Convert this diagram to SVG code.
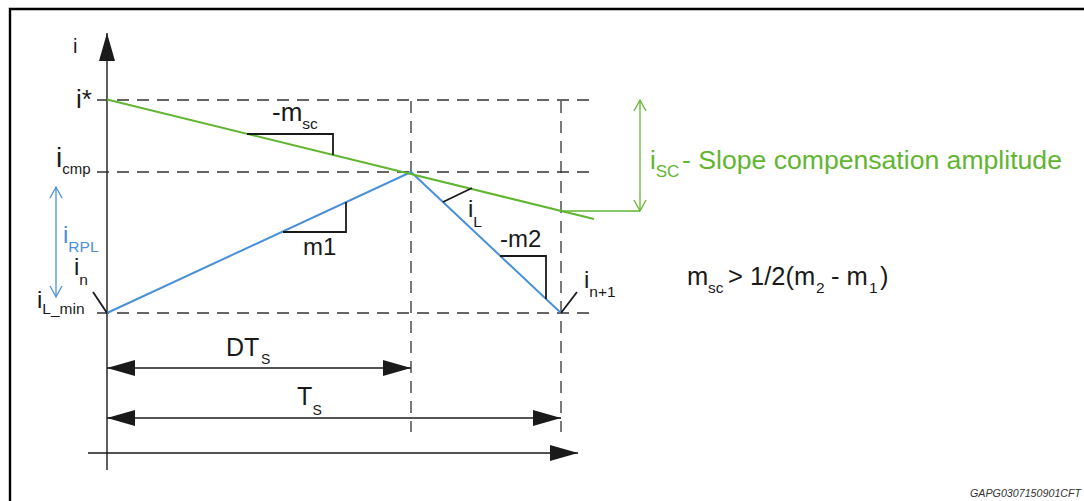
<svg xmlns="http://www.w3.org/2000/svg" width="1084" height="501" viewBox="0 0 1084 501">
<style>
text{font-family:"Liberation Sans",Arial,sans-serif;fill:#1a1a1a}
.sub{font-size:15.5px}
.lbl{font-size:24px}
.big{font-size:26px}
.axis{stroke:#1a1a1a;stroke-width:1.4;fill:none}
.dash{stroke:#333;stroke-width:1.3;stroke-dasharray:12 8;fill:none}
.blue{stroke:#4a90d9;stroke-width:2;fill:none}
.green{stroke:#62b530;stroke-width:2;fill:none}
.mark{stroke:#1a1a1a;stroke-width:1.8;fill:none}
.bt{fill:#4a90d9}
.gt{fill:#62b530}
</style>
<defs>
<marker id="tri" viewBox="0 0 28 16" refX="28" refY="8" markerWidth="28" markerHeight="16" markerUnits="userSpaceOnUse" orient="auto-start-reverse">
<path d="M0,0 L28,8 L0,16 z" fill="#1a1a1a"/>
</marker>
<marker id="vb" viewBox="0 0 12 14" refX="11.5" refY="7" markerWidth="12" markerHeight="14" markerUnits="userSpaceOnUse" orient="auto-start-reverse" overflow="visible">
<path d="M0.5,1 L11.5,7 L0.5,13" fill="none" stroke="#4a90d9" stroke-width="1.3"/>
</marker>
<marker id="vg" viewBox="0 0 12 14" refX="11.5" refY="7" markerWidth="12" markerHeight="14" markerUnits="userSpaceOnUse" orient="auto-start-reverse" overflow="visible">
<path d="M0.5,1 L11.5,7 L0.5,13" fill="none" stroke="#62b530" stroke-width="1.3"/>
</marker>
</defs>
<rect width="1084" height="501" fill="#fff"/>
<path d="M10,502 V9 H1086" fill="none" stroke="#000" stroke-width="2.4"/>

<g id="connectors">
<line class="axis" x1="107" y1="470" x2="107" y2="33" marker-end="url(#tri)"/>
<line class="axis" x1="88" y1="453" x2="578" y2="453" marker-end="url(#tri)"/>
<line class="dash" x1="97" y1="100" x2="592" y2="100"/>
<line class="dash" x1="97" y1="172" x2="592" y2="172"/>
<line class="dash" x1="97" y1="313" x2="592" y2="313"/>
<line class="dash" x1="411" y1="101" x2="411" y2="432"/>
<line class="dash" x1="561" y1="101" x2="561" y2="432"/>
<polyline class="blue" points="107,313 411,172 561,313"/>
<line class="green" x1="107" y1="99.5" x2="594" y2="219"/>
<polyline class="green" style="stroke-width:1.3" points="561,211 640,211"/>
<line class="green" style="stroke-width:1.3" x1="640" y1="211" x2="640" y2="100" marker-start="url(#vg)" marker-end="url(#vg)"/>
<line class="blue" style="stroke-width:1.3" x1="56" y1="297" x2="56" y2="187" marker-start="url(#vb)" marker-end="url(#vb)"/>
<line class="axis" x1="107" y1="368" x2="411" y2="368" marker-start="url(#tri)" marker-end="url(#tri)"/>
<line class="axis" x1="107" y1="418" x2="561" y2="418" marker-start="url(#tri)" marker-end="url(#tri)"/>
<path class="mark" d="M247,134 H333 V155"/>
<path class="mark" d="M283,232 H346 V202"/>
<path class="mark" d="M500,256 H546 V299"/>
<path class="mark" d="M443,202 L472,188"/>
<path class="mark" d="M93,292 L107,313"/>
<path class="mark" d="M561,313 L577,292"/>
</g>

<g id="label-i"><text x="73" y="53" style="font-size:20px">i</text></g>
<g id="label-istar"><text x="76" y="108" class="big">i*</text></g>
<g id="label-icmp"><text x="56" y="167" style="font-size:28px">i<tspan class="sub" style="font-size:15px" dy="7">cmp</tspan></text></g>
<g id="label-irpl"><text x="63" y="243" class="lbl bt">i<tspan class="sub" dy="9">RPL</tspan></text></g>
<g id="label-in"><text x="74" y="275" class="lbl">i<tspan class="sub" dy="10">n</tspan></text></g>
<g id="label-ilmin"><text x="37" y="308" class="lbl">i<tspan class="sub" dy="6">L_min</tspan></text></g>
<g id="label-msc"><text x="272" y="121" class="big">-m<tspan class="sub" dy="8">sc</tspan></text></g>
<g id="label-m1"><text x="303" y="255" class="lbl">m1</text></g>
<g id="label-m2"><text x="500" y="247" class="lbl">-m2</text></g>
<g id="label-iL"><text x="468" y="217" class="lbl">i<tspan class="sub" dy="10">L</tspan></text></g>
<g id="label-in1"><text x="584" y="288" class="lbl">i<tspan class="sub" dy="9">n+1</tspan></text></g>
<g id="label-dts"><text x="226" y="356" style="font-size:25px">DT<tspan style="font-size:14px" x="261" y="364">S</tspan></text></g>
<g id="label-ts"><text x="297" y="405" style="font-size:25px">T<tspan style="font-size:14px" x="312.5" y="415">S</tspan></text></g>
<g id="label-isc"><text x="650" y="169" class="gt" style="font-size:26px">i<tspan style="font-size:17px" dy="8">SC</tspan><tspan x="682" dy="-8" style="font-size:26.6px">- Slope compensation amplitude</tspan></text></g>
<g id="label-cond"><text y="285" style="font-size:25.5px"><tspan x="687">m</tspan><tspan class="sub" x="708" y="293">sc</tspan><tspan x="728" y="285">&gt; 1/2(m</tspan><tspan class="sub" x="816" y="293">2</tspan><tspan x="831" y="285">- m</tspan><tspan class="sub" x="869" y="293">1</tspan><tspan x="880" y="285">)</tspan></text></g>
<g id="label-code"><text x="970" y="497" style="font-size:10.7px;font-style:italic;fill:#333">GAPG0307150901CFT</text></g>
</svg>
